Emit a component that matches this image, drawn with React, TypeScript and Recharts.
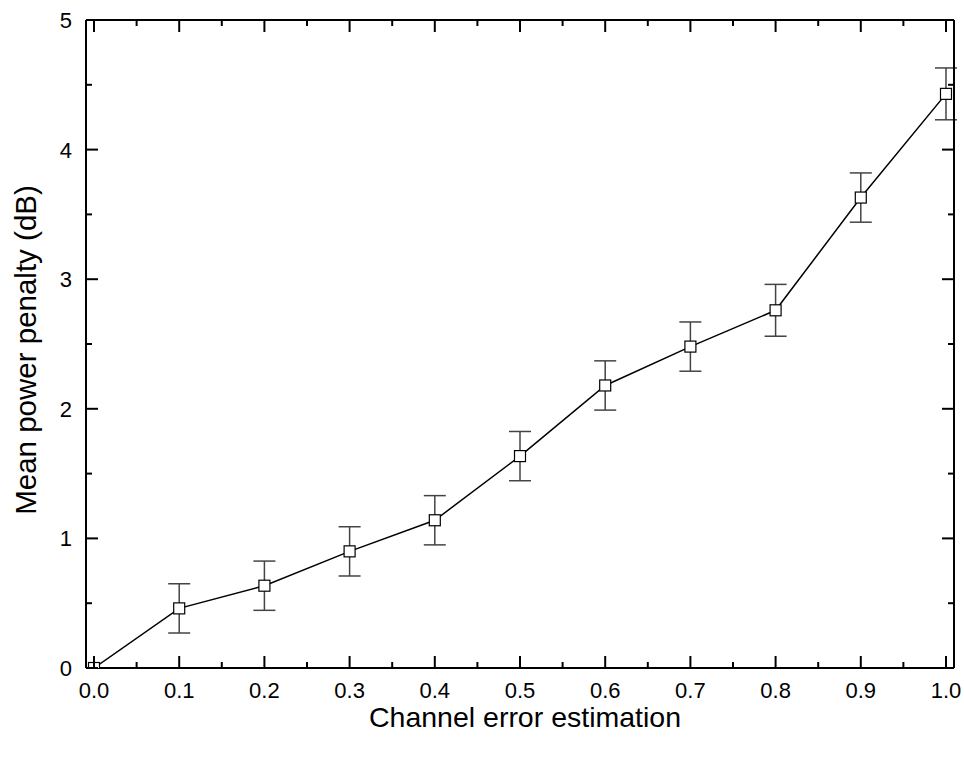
import React from 'react';
import { ComposedChart, Line, XAxis, YAxis, ErrorBar } from 'recharts';

const xValues = [0, 0.1, 0.2, 0.3, 0.4, 0.5, 0.6, 0.7, 0.8, 0.9, 1.0];
const penalty = [0, 0.46, 0.635, 0.9, 1.14, 1.635, 2.18, 2.48, 2.76, 3.63, 4.43];
const penaltyErr = [0, 0.19, 0.19, 0.19, 0.19, 0.19, 0.19, 0.19, 0.2, 0.19, 0.2];

const xMajorTicks = [0, 0.1, 0.2, 0.3, 0.4, 0.5, 0.6, 0.7, 0.8, 0.9, 1.0];
const xMinorTicks = [0.05, 0.15, 0.25, 0.35, 0.45, 0.55, 0.65, 0.75, 0.85, 0.95];
const yMajorTicks = [0, 1, 2, 3, 4, 5];
const yMinorTicks = [0.5, 1.5, 2.5, 3.5, 4.5];

const data = xValues.map((x, i) => ({ x, y: penalty[i], err: penaltyErr[i] }));

const FONT = 'Arial, "Liberation Sans", sans-serif';
const TICK_FONT = 22;
const isMajor = (v: number, list: number[]) => list.some((t) => Math.abs(t - v) < 1e-6);

const BottomTick = ({ x, y, payload }: any) => {
  const major = isMajor(payload.value, xMajorTicks);
  return (
    <g>
      <line x1={x} x2={x} y1={y} y2={y - (major ? 12 : 6)} stroke="#000" strokeWidth={2} />
      {major && (
        <text x={x} y={y + 30} textAnchor="middle" fontSize={TICK_FONT} fontFamily={FONT} fill="#000">
          {payload.value.toFixed(1)}
        </text>
      )}
    </g>
  );
};

const TopTick = ({ x, y, payload }: any) => {
  const major = isMajor(payload.value, xMajorTicks);
  return <line x1={x} x2={x} y1={y} y2={y + (major ? 12 : 6)} stroke="#000" strokeWidth={2} />;
};

const LeftTick = ({ x, y, payload }: any) => {
  const major = isMajor(payload.value, yMajorTicks);
  return (
    <g>
      <line x1={x} x2={x + (major ? 12 : 6)} y1={y} y2={y} stroke="#000" strokeWidth={2} />
      {major && (
        <text x={x - 14} y={y + 8} textAnchor="end" fontSize={TICK_FONT} fontFamily={FONT} fill="#000">
          {payload.value}
        </text>
      )}
    </g>
  );
};

const RightTick = ({ x, y, payload }: any) => {
  const major = isMajor(payload.value, yMajorTicks);
  return <line x1={x} x2={x - (major ? 12 : 6)} y1={y} y2={y} stroke="#000" strokeWidth={2} />;
};

const SquareDot = ({ cx, cy }: any) => {
  if (cx == null || cy == null) return null;
  return <rect x={cx - 5.5} y={cy - 5.5} width={11} height={11} fill="#fff" stroke="#000" strokeWidth={1.2} />;
};

const XTitle = ({ viewBox }: any) => {
  const cx = viewBox.x + viewBox.width / 2 + 5;
  const y = viewBox.y + viewBox.height - 30;
  return (
    <text x={cx} y={y} textAnchor="middle" fontSize={28.5} fontFamily={FONT} fill="#000">
      Channel error estimation
    </text>
  );
};

const YTitle = ({ viewBox }: any) => {
  const cx = viewBox.x + 25.5;
  const cy = viewBox.y + viewBox.height / 2 + 6;
  return (
    <text
      x={cx}
      y={cy}
      dy="0.355em"
      transform={`rotate(-90, ${cx}, ${cy})`}
      textAnchor="middle"
      fontSize={29.5}
      fontFamily={FONT}
      fill="#000"
    >
      Mean power penalty (dB)
    </text>
  );
};

const xDomain = [-0.0094, 1.0094];
const xTicks = [...xMajorTicks, ...xMinorTicks].sort((a, b) => a - b);
const yTicks = [...yMajorTicks, ...yMinorTicks].sort((a, b) => a - b);

export default function App() {
  return (
    <div style={{ position: 'absolute', left: 0, top: 0, background: '#fff' }}>
      <ComposedChart
        width={964}
        height={757}
        data={data}
        margin={{ top: 19, right: 9, left: 0, bottom: 0 }}
      >
        <XAxis
          dataKey="x"
          type="number"
          domain={xDomain}
          allowDataOverflow
          ticks={xTicks}
          interval={0}
          height={89}
          tickSize={0}
          tickMargin={0}
          tickLine={false}
          tick={<BottomTick />}
          axisLine={{ stroke: '#000', strokeWidth: 2 }}
          label={<XTitle />}
        />
        <XAxis
          xAxisId="top"
          orientation="top"
          dataKey="x"
          type="number"
          domain={xDomain}
          allowDataOverflow
          ticks={xTicks}
          interval={0}
          height={1}
          tickSize={0}
          tickMargin={0}
          tickLine={false}
          tick={<TopTick />}
          axisLine={{ stroke: '#000', strokeWidth: 2 }}
        />
        <YAxis
          type="number"
          domain={[0, 5]}
          allowDataOverflow
          ticks={yTicks}
          interval={0}
          width={86}
          tickSize={0}
          tickMargin={0}
          tickLine={false}
          tick={<LeftTick />}
          axisLine={{ stroke: '#000', strokeWidth: 2 }}
          label={<YTitle />}
        />
        <YAxis
          yAxisId="right"
          orientation="right"
          type="number"
          domain={[0, 5]}
          allowDataOverflow
          ticks={yTicks}
          interval={0}
          width={1}
          tickSize={0}
          tickMargin={0}
          tickLine={false}
          tick={<RightTick />}
          axisLine={{ stroke: '#000', strokeWidth: 2 }}
        />
        <Line
          xAxisId="top"
          yAxisId="right"
          dataKey="y"
          stroke="none"
          dot={false}
          activeDot={false}
          legendType="none"
          isAnimationActive={false}
        />
        <Line
          dataKey="y"
          stroke="#000"
          strokeWidth={1.5}
          dot={<SquareDot />}
          activeDot={false}
          isAnimationActive={false}
        >
          <ErrorBar dataKey="err" width={11} stroke="#444" strokeWidth={1.5} direction="y" />
        </Line>
      </ComposedChart>
    </div>
  );
}
